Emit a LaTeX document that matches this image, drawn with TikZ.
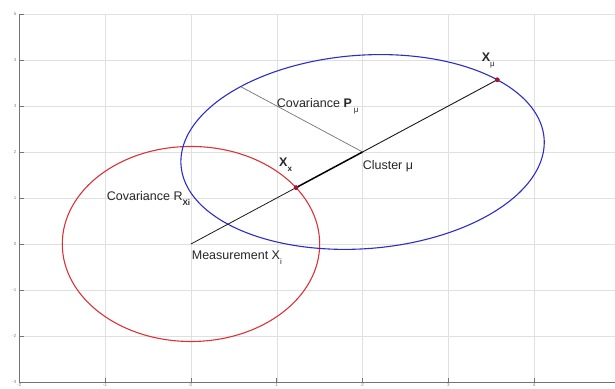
\documentclass[tikz,border=0pt]{standalone}
\usepackage{fontspec}
\setmainfont{Liberation Sans}
\usepackage{tikz}
\definecolor{ellblue}{RGB}{45,45,200}
\definecolor{ellred}{RGB}{220,50,55}
\definecolor{dotred}{RGB}{165,20,50}
\newcommand{\lowsub}[1]{\raisebox{-5pt}{\fontsize{8}{8}\selectfont #1}}
\tikzset{
  gridline/.style={color=black!12, line width=0.4pt},
  axisline/.style={color=black!55, line width=0.6pt},
  ticklabel/.style={font=\fontsize{4.5}{4.5}\selectfont, color=black!50, inner sep=0.3pt},
  plotlabel/.style={font=\fontsize{12.5}{14}\selectfont, color=black!85, anchor=base west, inner sep=0pt},
  ellipseline/.style={line width=1.1pt},
  dotmark/.style={circle, fill=dotred, inner sep=0pt, minimum size=4.5pt}
}

\begin{document}
\begin{tikzpicture}[x=85.8pt, y=46pt]
        \useasboundingbox (-2.226,-3.152) rectangle (4.942,5.304);
        \clip (-2.226,-3.152) rectangle (4.942,5.304);
        % grid and axes
        \foreach \gx in {-1,...,4} \draw[gridline] (\gx,-3) -- (\gx,5);
        \foreach \gy in {-2,...,5} \draw[gridline] (-2,\gy) -- (4.942,\gy);
        \draw[axisline] (-2,5) -- (-2,-3) -- (4.942,-3);
        \foreach \gy in {-3,...,5} {\draw[axisline] (-2,\gy) -- (-1.95,\gy); \node[ticklabel, anchor=east] (ylab\gy) at (-2.03,\gy) {\gy};}
        \foreach \gx in {-2,...,4} {\draw[axisline] (\gx,-3) -- (\gx,-2.92); \node[ticklabel, anchor=north] (xlab\gx) at (\gx,-3.025) {\gx};}
        % points
        \coordinate (meas) at (0,0); \coordinate (clust) at (2,2); \coordinate (pend) at (0.586,3.414);
        \node[dotmark] (xx) at (1.2247,1.2247) {}; \node[dotmark] (xmu) at (3.57,3.57) {};
        % ellipses
        \draw[ellipseline, color=ellred] (meas) ellipse [x radius=1.5, y radius=2.12];
        \draw[ellipseline, color=ellblue] plot[domain=0:360, samples=120, smooth cycle, variable=\t] ({2+0.7071*(2.22*cos(\t)-2.01*sin(\t))},{2+0.7071*(2.22*cos(\t)+2.01*sin(\t))});
        % connectors
        \draw[color=black!55, line width=0.7pt] (clust) -- (pend);
        \draw[color=black!90, line width=0.8pt] (meas) -- (xx.center); \draw[color=black, line width=1.5pt] (xx.center) -- (clust); \draw[color=black!90, line width=0.9pt] (clust) -- (xmu.center);
        \node[dotmark] at (xx.center) {}; \node[dotmark] at (xmu.center) {};
        % labels
        \node[plotlabel] (labxmu) at (3.388,3.957) {\textbf{X}\lowsub{μ}};
        \node[plotlabel] (labpmu) at (0.998,2.957) {Covariance \textbf{P}\,\lowsub{μ}};
        \node[plotlabel] (labclust) at (2.0,1.61) {Cluster μ};
        \node[plotlabel] (labxx) at (1.026,1.674) {\textbf{X}\lowsub{\textbf{x}}};
        \node[plotlabel] (labrxi) at (-0.983,0.94) {Covariance R\lowsub{\textbf{Xi}}};
        \node[plotlabel] (labmeas) at (0.008,-0.348) {Measurement X\lowsub{i}};
    \end{tikzpicture}
\end{document}
